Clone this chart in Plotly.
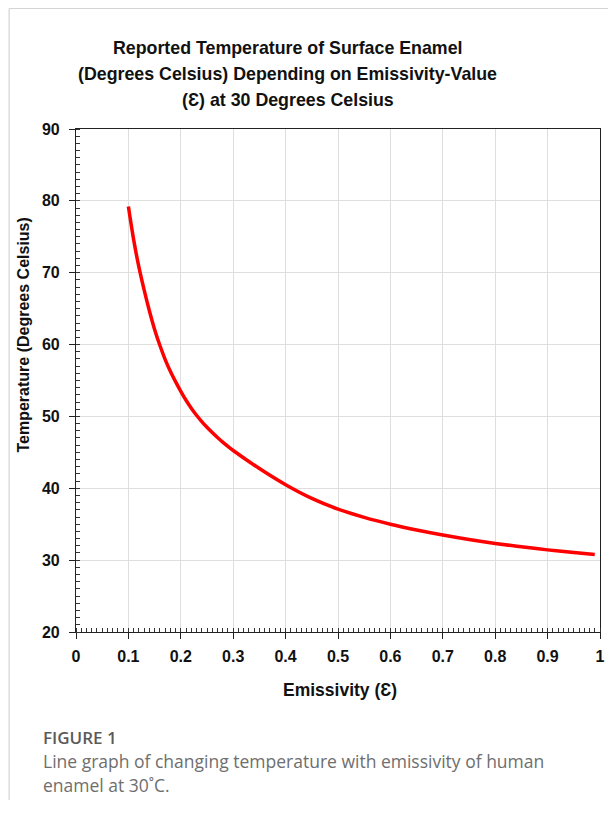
import plotly.graph_objects as go

# Data
emissivity = [0.10, 0.11, 0.12, 0.13, 0.14, 0.15, 0.16, 0.17, 0.18, 0.19, 0.20,
              0.21, 0.22, 0.23, 0.24, 0.25, 0.26, 0.27, 0.28, 0.29, 0.30,
              0.35, 0.40, 0.45, 0.50, 0.55, 0.60, 0.65, 0.70, 0.75, 0.80,
              0.85, 0.90, 0.95, 0.99]
temperature = [79.2, 74.6, 70.8, 67.6, 64.7, 62.1, 59.9, 57.95, 56.3, 54.85, 53.5,
               52.25, 51.15, 50.17, 49.29, 48.49, 47.75, 47.06, 46.42, 45.82, 45.26,
               42.75, 40.5, 38.6, 37.1, 35.95, 35.0, 34.2, 33.5, 32.88, 32.33,
               31.85, 31.43, 31.06, 30.8]
x_ticks = [0, 0.1, 0.2, 0.3, 0.4, 0.5, 0.6, 0.7, 0.8, 0.9, 1]
x_ticklabels = ["0", "0.1", "0.2", "0.3", "0.4", "0.5", "0.6", "0.7", "0.8", "0.9", "1"]
y_ticks = [20, 30, 40, 50, 60, 70, 80, 90]

title_lines = ["Reported Temperature of Surface Enamel",
               "(Degrees Celsius) Depending on Emissivity-Value",
               "(Ɛ) at 30 Degrees Celsius"]
x_title = "Emissivity (Ɛ)"
y_title = "Temperature (Degrees Celsius)"
caption_head = "FIGURE 1"
caption_lines = ["Line graph of changing temperature with emissivity of human",
                 "enamel at 30˚C."]

# The page body has an 8px margin, so the figure is drawn 8px in from the window edge.
OFF = 8
W, H = 608, 792
L, R, T, B = 68, 11, 121, 168
PW = W - L - R
PH = H - T - B


def px(x_page):
    return (x_page - OFF - L) / PW


def py(y_page):
    return (H - B - (y_page - OFF)) / PH


FONT = "Liberation Sans, Arial, sans-serif"
CAP_FONT = "Open Sans, sans-serif"

fig = go.Figure()
fig.add_trace(go.Scatter(x=emissivity, y=temperature, mode="lines",
                         line=dict(color="#ff0000", width=3.5, shape="spline",
                                   smoothing=1.0),
                         hoverinfo="skip", showlegend=False))

axis_common = dict(showline=True, linecolor="#222222", linewidth=1.2,
                   mirror=True, showgrid=True, gridcolor="#dedede", gridwidth=1.3,
                   zeroline=False, ticks="outside", ticklen=6, tickcolor="#222222",
                   tickwidth=1.2,
                   tickfont=dict(family=FONT, size=16, color="#111111", weight="bold"))

fig.update_xaxes(range=[0, 1], tickvals=x_ticks, ticktext=x_ticklabels,
                 minor=dict(dtick=0.01, ticks="inside", ticklen=4,
                            tickcolor="#333333", tickwidth=1, showgrid=False),
                 ticklabelstandoff=4,
                 **axis_common)
fig.update_yaxes(range=[20, 90], tickvals=y_ticks,
                 minor=dict(dtick=1, ticks="inside", ticklen=4,
                            tickcolor="#333333", tickwidth=1, showgrid=False),
                 ticklabelstandoff=6,
                 **axis_common)

annotations = []
for i, line in enumerate(title_lines):
    annotations.append(dict(text=line, x=px(290), y=py(48 + 26 * i), xref="paper",
                            yref="paper", xanchor="center", yanchor="middle",
                            showarrow=False,
                            font=dict(family=FONT, size=17.8, color="#111111",
                                      weight="bold")))
annotations.append(dict(text=x_title, x=px(343), y=py(690), xref="paper", yref="paper",
                        xanchor="center", yanchor="middle", showarrow=False,
                        font=dict(family=FONT, size=17.5, color="#111111",
                                  weight="bold")))
annotations.append(dict(text=y_title, x=px(22), y=py(335), xref="paper", yref="paper",
                        xanchor="center", yanchor="middle", showarrow=False,
                        textangle=-90,
                        font=dict(family=FONT, size=16, color="#111111", weight="bold")))
annotations.append(dict(text=caption_head, x=px(41), y=py(737), xref="paper",
                        yref="paper", xanchor="left", yanchor="middle", showarrow=False,
                        font=dict(family=CAP_FONT, size=17, color="#5a5a5a",
                                  weight=600)))
for i, line in enumerate(caption_lines):
    annotations.append(dict(text=line, x=px(41), y=py(761 + 24 * i), xref="paper",
                            yref="paper", xanchor="left", yanchor="middle",
                            showarrow=False,
                            font=dict(family=CAP_FONT, size=17.5, color="#6e6e6e")))

shapes = [
    dict(type="line", xref="paper", yref="paper", x0=px(8.5), x1=px(616), y0=py(8.5),
         y1=py(8.5), line=dict(color="#d4d4d4", width=1.2)),
    dict(type="line", xref="paper", yref="paper", x0=px(8.5), x1=px(8.5), y0=py(8.5),
         y1=py(816), line=dict(color="#d4d4d4", width=1.2)),
]

fig.update_layout(width=W, height=H, margin=dict(l=L, r=R, t=T, b=B),
                  paper_bgcolor="white", plot_bgcolor="white",
                  annotations=annotations, shapes=shapes, showlegend=False)

fig.write_html("out.html")
